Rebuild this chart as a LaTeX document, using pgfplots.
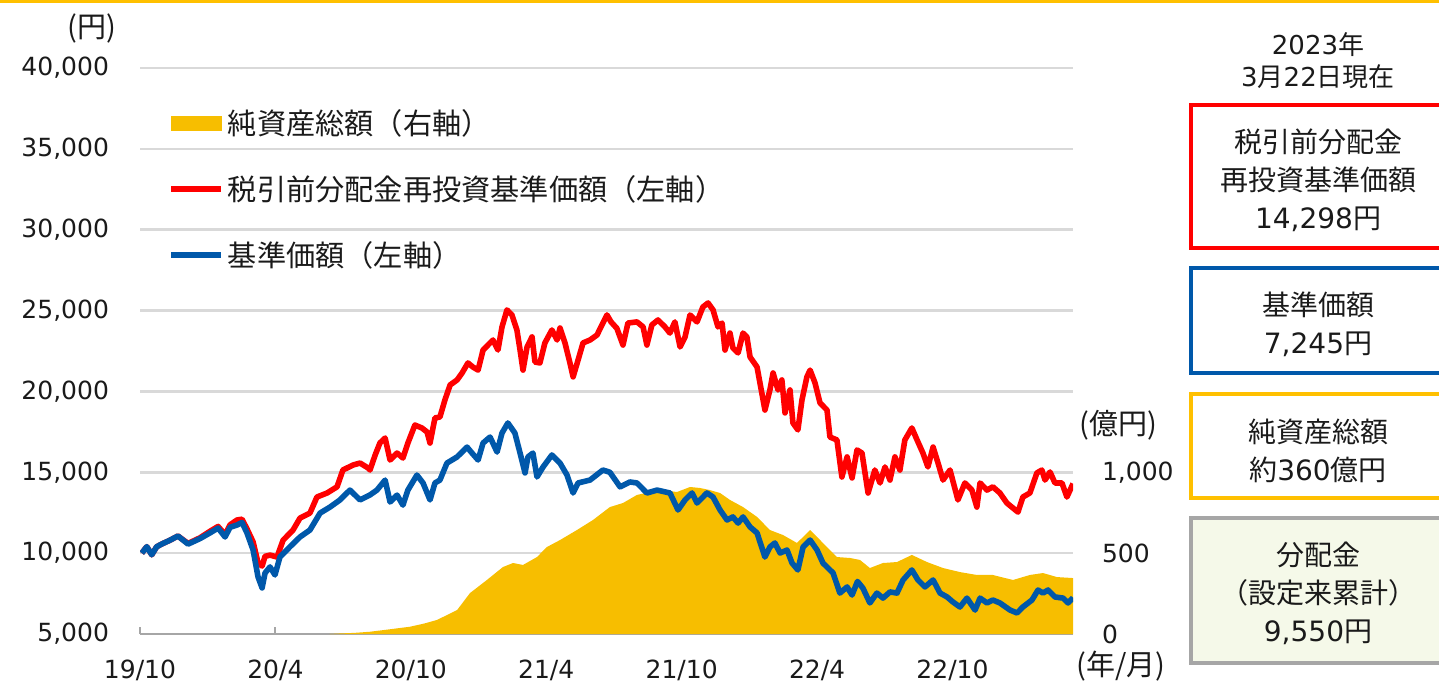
\documentclass[border=0pt]{standalone}
\usepackage{fontspec}
\setmainfont{DejaVu Sans}
\newfontfamily\jp{Noto Sans CJK JP}
\usepackage{pgfplots}
\pgfplotsset{compat=1.18}
\definecolor{lineRed}{RGB}{255,0,0}
\definecolor{lineBlue}{RGB}{0,88,170}
\definecolor{areaY}{RGB}{247,190,0}
\definecolor{topY}{RGB}{255,192,0}
\definecolor{gridG}{RGB}{217,217,217}
\definecolor{axisG}{RGB}{166,166,166}
\definecolor{boxGreen}{RGB}{245,249,233}
\definecolor{txt}{RGB}{26,26,26}

\pgfplotstableread{
m v
0.08 10000
0.30 10400
0.52 9900
0.74 10400
1.02 10600
1.33 10800
1.68 11060
2.13 10560
2.66 10900
3.10 11250
3.46 11550
3.77 11000
3.99 11600
4.30 11740
4.52 11900
4.74 11250
5.01 10200
5.23 8530
5.41 7850
5.54 8770
5.76 9150
5.98 8650
6.20 9760
6.65 10400
7.09 11000
7.53 11430
7.98 12480
8.42 12850
8.86 13290
9.30 13900
9.75 13290
10.19 13600
10.50 13900
10.86 14520
11.08 13160
11.39 13590
11.65 12970
11.87 13900
12.27 14830
12.54 14340
12.85 13290
13.07 14340
13.29 14520
13.60 15570
14.05 15950
14.49 16560
14.71 16190
14.98 15760
15.20 16810
15.51 17180
15.82 16250
16.04 17430
16.30 18050
16.61 17430
16.84 16190
17.06 14960
17.19 15950
17.41 16190
17.59 14710
17.86 15330
18.25 16070
18.61 15570
18.92 14830
19.19 13720
19.41 14340
19.94 14520
20.51 15140
20.82 15000
21.27 14100
21.71 14400
22.02 14340
22.46 13720
22.91 13900
23.48 13720
23.84 12670
24.15 13290
24.46 13720
24.68 13100
25.12 13720
25.39 13470
25.70 12670
26.01 12050
26.27 12240
26.50 11860
26.72 12240
27.03 11620
27.34 11250
27.69 9760
27.91 10380
28.13 10630
28.36 10010
28.67 10190
28.89 9390
29.15 8960
29.38 10380
29.69 10810
30.00 10190
30.26 9390
30.71 8770
31.01 7530
31.33 7910
31.55 7410
31.79 8250
32.03 7840
32.34 6920
32.65 7530
32.92 7220
33.23 7600
33.54 7530
33.81 8340
34.20 8960
34.47 8340
34.78 7910
35.14 8340
35.45 7530
35.76 7290
36.02 6980
36.33 6670
36.64 7220
37.00 6480
37.22 7220
37.53 6920
37.79 7100
38.10 6920
38.55 6480
38.86 6300
39.12 6670
39.52 7100
39.79 7720
40.01 7530
40.23 7720
40.54 7290
40.90 7220
41.12 6920
41.34 7245
}\navdata

\pgfplotstableread{
m v
0.08 10000
0.30 10400
0.52 9900
0.74 10400
1.02 10600
1.33 10800
1.68 11060
2.13 10600
2.66 10950
3.10 11350
3.46 11650
3.77 11150
3.99 11750
4.30 12050
4.52 12100
4.74 11500
5.01 10700
5.23 9400
5.41 9200
5.54 9800
5.76 9880
6.07 9760
6.34 10800
6.78 11430
7.09 12170
7.53 12480
7.84 13470
8.29 13720
8.73 14100
8.99 15140
9.44 15450
9.75 15570
10.10 15270
10.19 15140
10.42 16070
10.63 16810
10.86 17120
11.08 15760
11.39 16190
11.65 15880
11.87 16810
12.18 17920
12.49 17740
12.72 17490
12.85 16810
13.07 18360
13.29 18420
13.51 19470
13.74 20400
14.05 20710
14.27 21140
14.53 21760
14.75 21510
14.98 21320
15.20 22560
15.42 22870
15.64 23180
15.86 22560
16.04 23990
16.26 25040
16.48 24730
16.70 23800
16.84 22560
16.97 21320
17.15 22750
17.37 23370
17.50 21820
17.72 21760
17.94 23000
18.25 23800
18.48 23180
18.61 23920
18.83 23000
19.05 21760
19.19 20900
19.41 21940
19.63 23000
19.94 23180
20.25 23490
20.51 24230
20.69 24730
20.87 24300
21.13 23900
21.40 22870
21.62 24230
22.02 24300
22.29 23990
22.46 22870
22.68 24110
22.95 24420
23.26 23990
23.48 23610
23.70 24300
23.93 22750
24.15 23370
24.37 24730
24.68 24300
24.94 25220
25.17 25470
25.39 25040
25.61 23990
25.79 24230
25.92 22560
26.14 23610
26.27 22690
26.50 22380
26.72 23610
26.89 23370
27.03 22130
27.34 21510
27.47 20520
27.69 18850
27.91 20090
28.05 21140
28.27 20090
28.44 20710
28.58 18670
28.80 20090
28.93 18050
29.15 17620
29.33 19470
29.55 20900
29.69 21320
29.91 20520
30.13 19290
30.44 18850
30.57 17180
30.88 17000
31.10 14710
31.33 15950
31.55 14650
31.77 16380
31.99 16190
32.26 13720
32.56 15140
32.79 14340
33.01 15330
33.23 14520
33.45 15950
33.67 15140
33.89 17000
34.20 17740
34.43 17000
34.69 16190
34.91 15330
35.14 16560
35.36 15570
35.58 14520
35.89 15140
36.24 13290
36.55 14340
36.86 13900
37.08 12850
37.22 14340
37.53 13900
37.79 14100
38.10 13720
38.41 13100
38.68 12790
38.90 12540
39.12 13470
39.43 13720
39.74 14960
39.96 15140
40.10 14520
40.32 15020
40.54 14340
40.85 14340
41.07 13470
41.34 14298
}\reinvdata

\pgfplotstableread{
m v
8.40 0
8.80 3
9.50 7
10.19 14
11.00 28
11.96 45
12.60 65
13.16 87
14.05 148
14.62 253
15.37 334
16.08 414
16.53 439
16.97 427
17.59 476
18.03 538
18.61 581
19.36 643
20.07 705
20.82 785
21.40 810
22.02 860
22.60 878
23.17 890
23.79 878
24.37 909
24.81 903
25.25 890
25.70 872
26.14 829
26.72 785
27.34 724
27.91 643
28.49 612
29.11 563
29.69 643
30.26 563
30.88 476
31.46 470
31.90 458
32.34 408
32.92 439
33.54 445
34.20 489
34.87 445
35.58 408
36.33 383
37.08 365
37.79 365
38.68 334
39.43 365
40.01 377
40.63 352
41.34 346
}\assetdata

\begin{document}
\begin{tikzpicture}[font=\fontsize{12.5}{14}\selectfont, text=txt]
\useasboundingbox (0,0) rectangle (719.5pt,-342pt);
\pgfplotsset{base/.style={scale only axis, width=466.5pt, height=283pt,
  at={(70pt,-317pt)}, anchor=south west, xmin=0, xmax=41.34,
  /pgf/number format/assume math mode=true, /pgf/number format/1000 sep={,},
  scaled y ticks=false}}

% left-scale axis: grid, ticks, labels
\begin{axis}[base, ymin=5000, ymax=40000,
  ytick={5000,10000,...,40000},
  ymajorgrids, grid style={gridG, line width=1.25pt},
  axis y line*=left, axis x line*=bottom,
  y axis line style={draw=none},
  x axis line style={axisG, line width=1pt, -},
  xtick={0,6,...,36},
  xticklabels={19/10,20/4,20/10,21/4,21/10,22/4,22/10},
  major tick length=3.5pt, tick align=inside,
  xtick style={axisG, line width=1pt},
  ytick style={draw=none},
  yticklabel style={xshift=-12pt},
  xticklabel style={yshift=-9.5pt}]
\addplot[draw=none] coordinates {(0,5000)};
\end{axis}

% right-scale axis: net assets area
\begin{axis}[base, ymin=0, ymax=3500,
  axis y line*=right, axis x line=none,
  y axis line style={draw=none},
  ytick={0,500,1000}, ytick style={draw=none},
  yticklabel style={xshift=11pt}]
\addplot[fill=areaY, draw=none] table[x=m, y=v] {\assetdata} \closedcycle;
\end{axis}

% left-scale axis: lines and legend
\begin{axis}[base, ymin=5000, ymax=40000, hide axis,
  legend style={at={(0.03,0.935)}, anchor=north west, draw=none, fill=none,
    font=\jp\fontsize{14.6}{17}\selectfont, row sep=15pt, inner sep=0pt,
    cells={anchor=west}},
  legend image code/.code={\draw[#1] (0pt,0pt) -- (25pt,0pt);}]
\addlegendimage{legend image code/.code={\fill[areaY] (0pt,-3.5pt) rectangle (25pt,3.5pt);}}
\addlegendentry{純資産総額（右軸）}
\addplot[lineRed, line width=2.8pt, line join=round] table[x=m, y=v] {\reinvdata};
\addlegendentry{税引前分配金再投資基準価額（左軸）}
\addplot[lineBlue, line width=2.8pt, line join=round] table[x=m, y=v] {\navdata};
\addlegendentry{基準価額（左軸）}
\end{axis}

\begin{scope}[x=0.5pt, y=-0.5pt]
\fill[topY] (0,0) rectangle (1439,3.5);
\node[font=\jp\fontsize{14.5}{16}\selectfont] at (92,28) {(円)};
\node[font=\jp\fontsize{14.5}{16}\selectfont] at (1118,425) {(億円)};
\node[font=\jp\fontsize{14.5}{16}\selectfont] at (1121,666) {(年/月)};
\node[align=center, font=\fontsize{13}{16}\selectfont] at (1318,61)
  {2023{\jp 年}\\3{\jp 月}22{\jp 日現在}};
\draw[lineRed, line width=2pt] (1191,105) rectangle (1450,248);
\node[align=center, font=\fontsize{14}{19}\selectfont] at (1318,180)
  {{\jp 税引前分配金}\\{\jp 再投資基準価額}\\14,298{\jp 円}};
\draw[lineBlue, line width=2pt] (1191,268) rectangle (1450,373);
\node[align=center, font=\fontsize{14}{19}\selectfont] at (1318,324)
  {{\jp 基準価額}\\7,245{\jp 円}};
\draw[topY, line width=2pt] (1191,394) rectangle (1450,498);
\node[align=center, font=\fontsize{14}{19}\selectfont] at (1318,451)
  {{\jp 純資産総額}\\{\jp 約}360{\jp 億円}};
\draw[axisG, fill=boxGreen, line width=2pt] (1191,518) rectangle (1450,663);
\node[align=center, font=\fontsize{14}{19}\selectfont] at (1318,593)
  {{\jp 分配金}\\{\jp （設定来累計）}\\9,550{\jp 円}};
\end{scope}
\end{tikzpicture}
\end{document}
